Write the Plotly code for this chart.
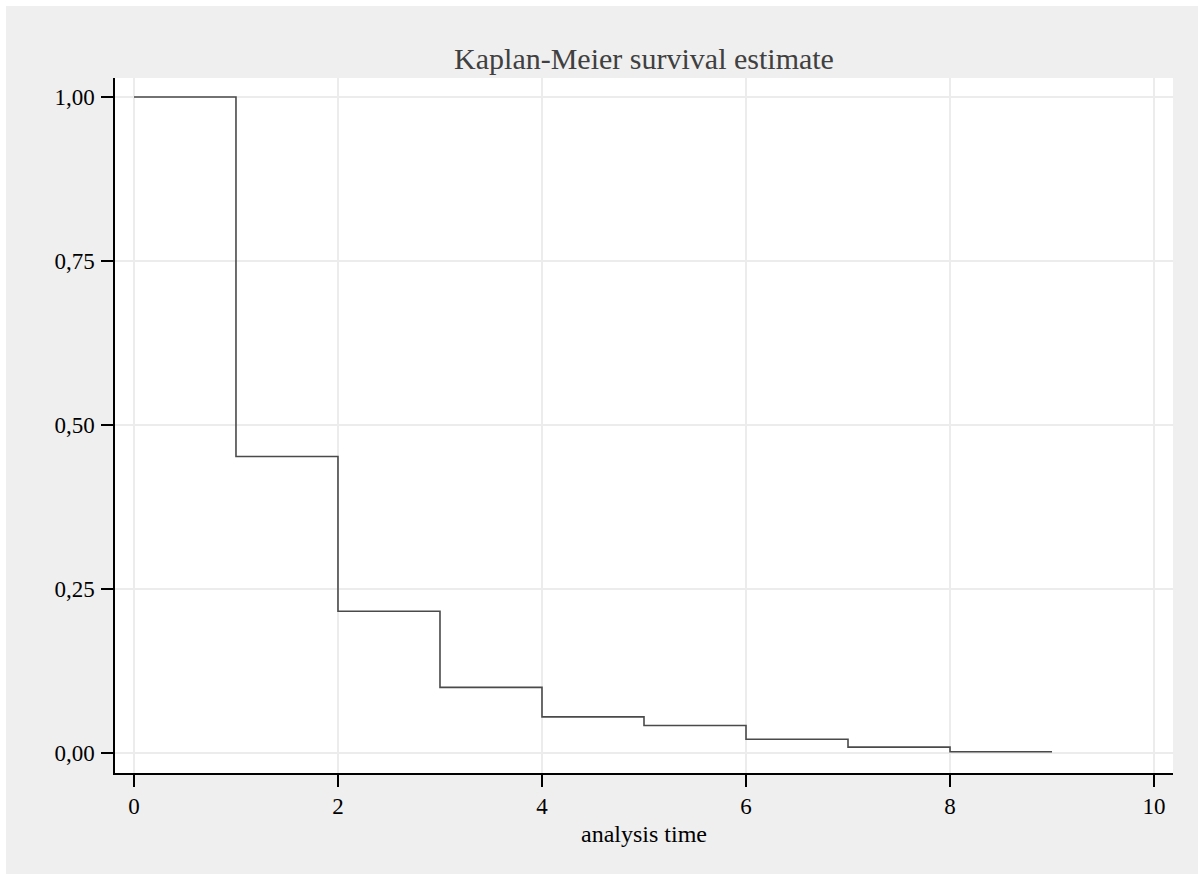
import plotly.graph_objects as go

# Kaplan-Meier step data
analysis_time = [0, 1, 2, 3, 4, 5, 6, 7, 8, 9]
survival = [1.000, 0.452, 0.216, 0.100, 0.055, 0.042, 0.021, 0.009, 0.002, 0.002]

x_ticks = [0, 2, 4, 6, 8, 10]
y_ticks = [0.0, 0.25, 0.5, 0.75, 1.0]

FONT = "Liberation Serif, Times New Roman, serif"
W, H = 1200, 880

fig = go.Figure()
fig.add_trace(go.Scatter(
    x=analysis_time, y=survival, mode="lines", line_shape="hv",
    line=dict(color="#4a4a4a", width=1.6), showlegend=False, hoverinfo="x+y"))

fig.update_layout(
    width=W, height=H,
    margin=dict(l=109, r=W - 1167, t=72, b=H - 767, pad=0),
    paper_bgcolor="#efefef", plot_bgcolor="#ffffff",
    separators=",.",
    font=dict(family=FONT, size=22, color="#000000"),
    title=dict(text="Kaplan-Meier survival estimate", x=0.5, xref="paper",
               y=1 - (58 - 6) / H, yref="container", yanchor="middle", xanchor="center",
               font=dict(family=FONT, size=30, color="#404040")),
    xaxis=dict(range=[-0.186, 10.186], tickvals=x_ticks, ticks="outside", ticklen=12,
               tickwidth=1.5, tickcolor="#000000", showline=True, linecolor="#000000",
               linewidth=1.5, showgrid=True, gridcolor="#ececec", gridwidth=1.5,
               zeroline=False, tickfont=dict(size=23),
               title=dict(text="analysis time", standoff=7,
                          font=dict(family=FONT, size=24))),
    yaxis=dict(range=[-0.0305, 1.029], tickvals=y_ticks, tickformat=".2f", ticks="outside",
               ticklen=12, tickwidth=1.5, tickcolor="#000000", showline=True,
               linecolor="#000000", linewidth=1.5, showgrid=True, gridcolor="#ececec",
               gridwidth=1.5, zeroline=False, tickfont=dict(size=23),
               ticklabelstandoff=2),
)

fig.write_html("out.html",
               post_script="document.body.style.margin='6px 0 0 6px';"
                           "document.body.style.overflow='hidden';"
                           "document.documentElement.style.overflow='hidden';"
                           "document.documentElement.style.background='#ffffff';"
                           "document.body.style.background='#efefef';")
